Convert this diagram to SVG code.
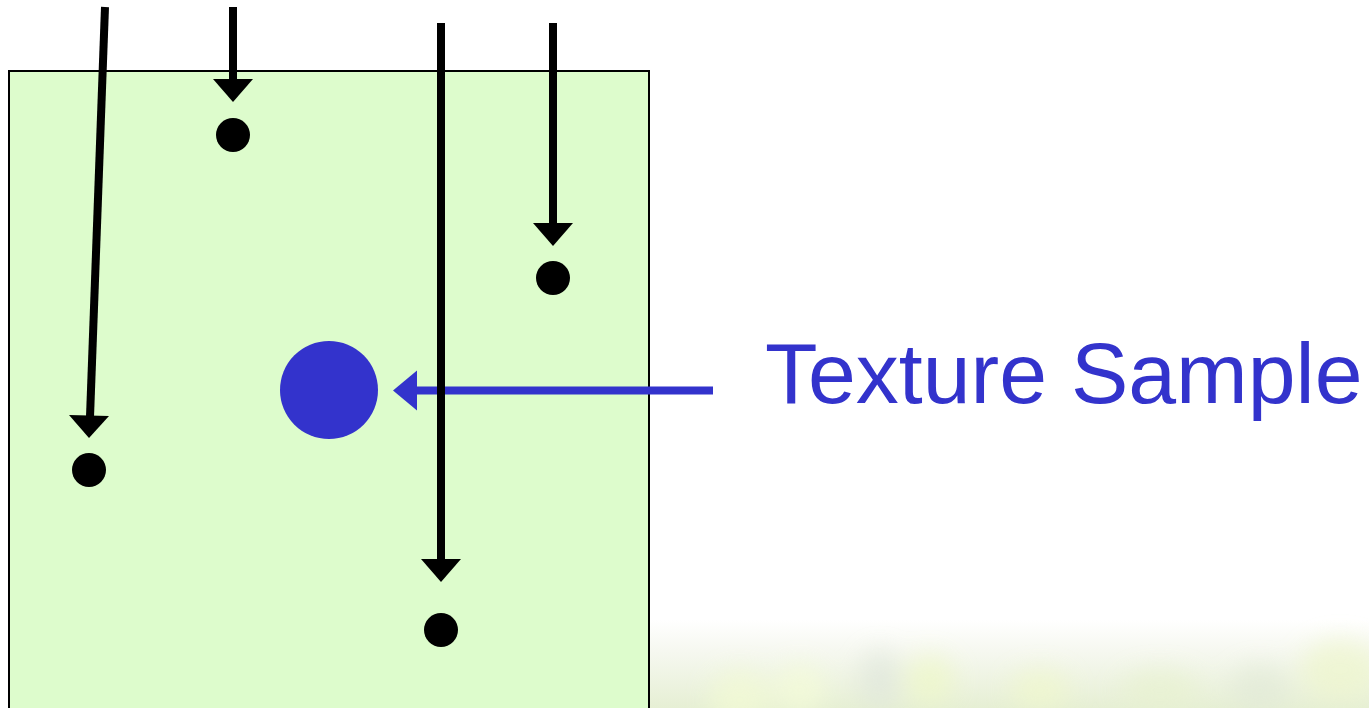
<svg xmlns="http://www.w3.org/2000/svg" width="1369" height="708" viewBox="0 0 1369 708">
<defs>
<linearGradient id="bg" x1="0" y1="0" x2="0" y2="1">
<stop offset="0" stop-color="#ffffff"/>
<stop offset="0.35" stop-color="#f6f8f0"/>
<stop offset="1" stop-color="#e6efd4"/>
</linearGradient>
<filter id="blur" x="-50%" y="-50%" width="200%" height="200%"><feGaussianBlur stdDeviation="12"/></filter>
</defs>
<style>
.dot{fill:#000}
.conn{stroke:#000;stroke-width:8;fill:none}
.lbl{font-family:"Liberation Sans",Arial,sans-serif;font-size:86px;fill:#3333cc}
</style>
<rect width="1369" height="708" fill="#fff"/>
<g id="background">
<rect x="640" y="620" width="729" height="88" fill="url(#bg)"/>
<g filter="url(#blur)" opacity="0.7">
<ellipse cx="740" cy="700" rx="30" ry="30" fill="#f3fbd4"/>
<ellipse cx="800" cy="690" rx="25" ry="25" fill="#f5fdd8"/>
<ellipse cx="930" cy="680" rx="25" ry="25" fill="#eef8c8"/>
<ellipse cx="1040" cy="690" rx="30" ry="20" fill="#f0f8cc"/>
<ellipse cx="1160" cy="690" rx="40" ry="20" fill="#e8f2d0"/>
<ellipse cx="1340" cy="670" rx="40" ry="30" fill="#eef6cc"/>
<ellipse cx="880" cy="680" rx="20" ry="30" fill="#dfe6dc"/>
<ellipse cx="1260" cy="690" rx="30" ry="25" fill="#e2ead8"/>
</g>
</g>
<g id="area">
<rect x="9" y="71" width="640" height="650" fill="#ddfccc" stroke="#000" stroke-width="2"/>
</g>
<g id="sample">
<circle cx="329" cy="390" r="49" fill="#3333cc"/>
</g>
<g id="p1"><circle class="dot" cx="89" cy="470" r="17"/></g>
<g id="p2"><circle class="dot" cx="233" cy="135" r="17"/></g>
<g id="p3"><circle class="dot" cx="441" cy="630" r="17"/></g>
<g id="p4"><circle class="dot" cx="553" cy="278" r="17"/></g>
<g id="label">
<text class="lbl" x="765" y="403">Texture Sample</text>
</g>
<g id="connectors">
<line x1="713" y1="390.5" x2="415" y2="390.5" stroke="#3333cc" stroke-width="8" />
<path d="M393,390.5 L417,370.5 L417,410.5 Z" fill="#3333cc"/>
<line class="conn" x1="105" y1="7" x2="90" y2="417"/>
<path d="M69,415 L109,416 L89,438 Z" fill="#000"/>
<line class="conn" x1="233" y1="7" x2="233" y2="80"/>
<path d="M213,79 L253,79 L233,102 Z" fill="#000"/>
<line class="conn" x1="441" y1="23" x2="441" y2="560"/>
<path d="M421,559 L461,559 L441,582 Z" fill="#000"/>
<line class="conn" x1="553" y1="23" x2="553" y2="224"/>
<path d="M533,223 L573,223 L553,246 Z" fill="#000"/>
</g>
</svg>
